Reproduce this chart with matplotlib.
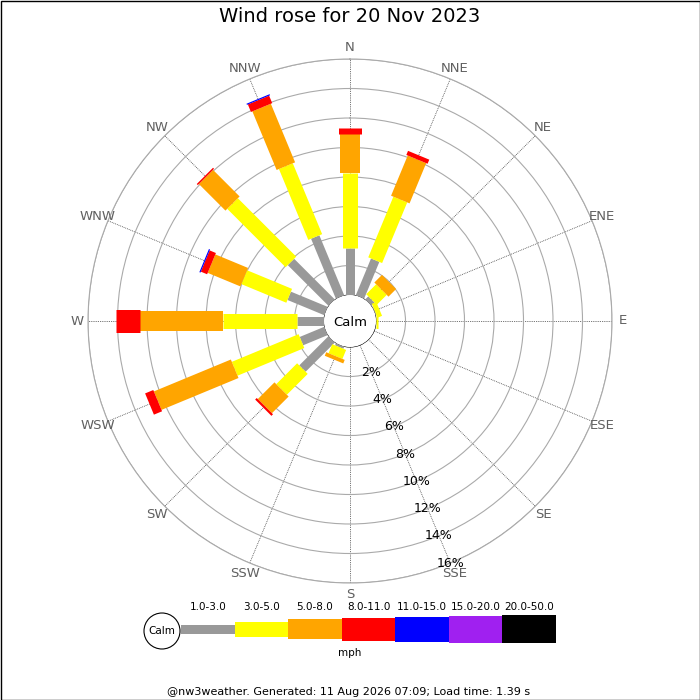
import numpy as np
import matplotlib
matplotlib.use('Agg')
import matplotlib.pyplot as plt
from matplotlib.patches import Circle, Rectangle

# 16 compass points, clockwise from N
directions = ['N', 'NNE', 'NE', 'ENE', 'E', 'ESE', 'SE', 'SSE',
              'S', 'SSW', 'SW', 'WSW', 'W', 'WNW', 'NW', 'NNW']

speed_bands = ['1.0-3.0', '3.0-5.0', '5.0-8.0', '8.0-11.0',
               '11.0-15.0', '15.0-20.0', '20.0-50.0']
band_colours = ['#999999', '#ffff00', '#ffa500', '#ff0000',
                '#0000ff', '#a020f0', '#000000']
band_widths_px = [9, 15, 20, 23, 25, 27, 28]

# percentage of time in each band, per direction
pct_1_3 = [3.2, 2.7, 0.3, 0.05, 0.0, 0, 0, 0, 0, 0.15, 2.8, 1.8, 1.8, 2.7, 3.9, 4.4]
pct_3_5 = [5.1, 4.45, 0.95, 0.33, 0.14, 0, 0, 0, 0, 0.66, 2.0, 4.9, 5.05, 3.3, 5.6, 5.2]
pct_5_8 = [2.6, 2.95, 0.73, 0, 0, 0, 0, 0, 0, 0.26, 1.6, 5.65, 5.6, 2.4, 2.55, 4.3]
pct_8_11 = [0.42, 0.3, 0, 0, 0, 0, 0, 0, 0, 0, 0.15, 0.6, 1.63, 0.46, 0.1, 0.55]
pct_11_15 = [0, 0, 0, 0, 0, 0, 0, 0, 0, 0, 0, 0, 0, 0.08, 0, 0.08]
pct_15_20 = [0] * 16
pct_20_50 = [0] * 16

ring_pcts = [2, 4, 6, 8, 10, 12, 14, 16]

title = 'Wind rose for 20 Nov 2023'
footer = '@nw3weather. Generated: 11 Aug 2026 07:09; Load time: 1.39 s'

if __name__ == '__main__':
    fig = plt.figure(figsize=(7, 7), dpi=100)
    px = 0.72  # points per pixel at 100 dpi

    # polar axes: centre (350, 321) px, outer radius 262 px, calm hole 26 px
    ax = fig.add_axes([88 / 700, 117 / 700, 524 / 700, 524 / 700], projection='polar')
    ax.set_theta_zero_location('N')
    ax.set_theta_direction(-1)
    ax.set_ylim(0, 16)
    ax.set_rorigin(-16 * 26 / (262 - 26))

    ax.set_rgrids(ring_pcts, labels=[''] * len(ring_pcts))
    ax.set_thetagrids(np.arange(16) * 22.5, labels=[''] * 16)
    ax.yaxis.grid(True, color='#aaaaaa', lw=0.8, ls='-')
    ax.xaxis.grid(True, color='#444444', lw=0.6, ls=(0, (1, 1.2)))
    ax.spines['polar'].set_color('#aaaaaa')
    ax.spines['polar'].set_linewidth(0.8)
    ax.spines['inner'].set_visible(False)
    ax.tick_params(length=0)

    thetas = np.deg2rad(np.arange(16) * 22.5)
    stacked = np.array([pct_1_3, pct_3_5, pct_5_8, pct_8_11, pct_11_15, pct_15_20, pct_20_50])
    tops = np.cumsum(stacked, axis=0)
    bottoms = tops - stacked

    for b in range(len(speed_bands)):
        for d in range(16):
            if stacked[b, d] <= 0:
                continue
            ax.plot([thetas[d], thetas[d]], [bottoms[b, d], tops[b, d]],
                    color=band_colours[b], lw=band_widths_px[b] * px,
                    solid_capstyle='butt', zorder=3 + b)

    # ring labels along SSE
    for r in ring_pcts:
        ax.text(np.deg2rad(157.5), r, f'{r}%', ha='center', va='center',
                fontsize=9, color='black', zorder=20)

    # compass labels
    for th, name in zip(thetas, directions):
        ax.text(th, 16.75, name, ha='center', va='center', fontsize=9.5, color='#606060')

    # overlay in pixel coords for calm circle, legend, title, footer
    ov = fig.add_axes([0, 0, 1, 1], zorder=10)
    ov.set_xlim(0, 700)
    ov.set_ylim(700, 0)
    ov.axis('off')

    ov.add_patch(Circle((350, 321), 26, facecolor='white', edgecolor='none'))
    ov.text(350, 322, 'Calm', ha='center', va='center', fontsize=9.5)

    ov.text(350, 17, title, ha='center', va='center', fontsize=14)

    # legend
    ov.add_patch(Circle((162, 631), 18, facecolor='white', edgecolor='black', lw=0.8))
    ov.text(162, 631, 'Calm', ha='center', va='center', fontsize=7.5)
    seg_w = (556 - 181) / len(speed_bands)
    for i, (lab, col, w) in enumerate(zip(speed_bands, band_colours, band_widths_px)):
        x0 = 181 + i * seg_w
        ov.add_patch(Rectangle((x0, 629 - w / 2), seg_w, w, facecolor=col, edgecolor='none'))
        ov.text(x0 + seg_w / 2, 607, lab, ha='center', va='center', fontsize=7.5)
    ov.text(350, 653, 'mph', ha='center', va='center', fontsize=7.5)

    ov.text(349, 692, footer, ha='center', va='center', fontsize=8)

    ov.add_patch(Rectangle((0.5, 0.5), 699, 699, fill=False, edgecolor='black', lw=1.0, clip_on=False))

    fig.savefig('out.png', dpi=100)
